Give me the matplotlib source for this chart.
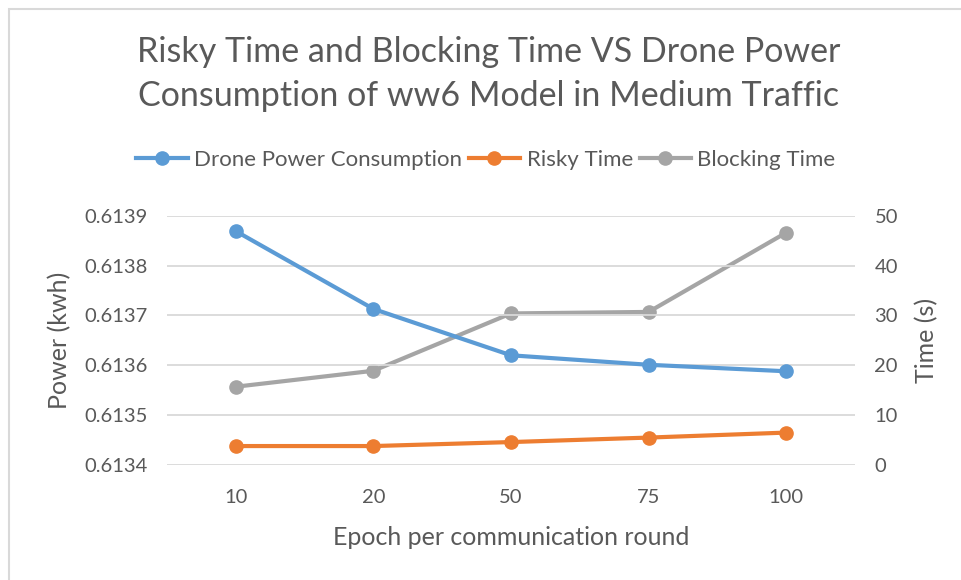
import matplotlib
matplotlib.use("Agg")
import matplotlib.pyplot as plt
from matplotlib.lines import Line2D
from matplotlib.patches import Rectangle

# Series data
epochs = ["10", "20", "50", "75", "100"]
power_kwh = [0.613869, 0.613713, 0.613620, 0.613601, 0.613588]
risky_time = [3.8, 3.8, 4.6, 5.5, 6.5]
blocking_time = [15.7, 18.9, 30.4, 30.7, 46.6]

BLUE = "#5B9BD5"
ORANGE = "#ED7D31"
GRAY = "#A5A5A5"
TEXT = "#595959"
GRID = "#D9D9D9"

plt.rcParams["font.family"] = ["Lato", "DejaVu Sans"]

fig = plt.figure(figsize=(9.61, 5.80), dpi=100)
fig.patches.append(Rectangle((9 / 961, -0.05), 1.1, 1 - 9 / 580 + 0.05,
                             transform=fig.transFigure, fill=False,
                             edgecolor="#D9D9D9", linewidth=1.5))

ax = fig.add_axes([167 / 961, 1 - 465 / 580, (855 - 167) / 961, (465 - 215.7) / 580])
ax2 = ax.twinx()

x = list(range(len(epochs)))
line_kw = dict(linewidth=3.0, marker="o", markersize=9.5, solid_capstyle="round")
ax.plot(x, power_kwh, color=BLUE, zorder=3, **line_kw)
ax2.plot(x, risky_time, color=ORANGE, **line_kw)
ax2.plot(x, blocking_time, color=GRAY, **line_kw)

ax.set_xlim(-0.5, len(epochs) - 0.5)
ax.set_ylim(0.6134, 0.6139)
ax.set_yticks([0.6134, 0.6135, 0.6136, 0.6137, 0.6138, 0.6139])
ax.set_yticklabels(["0.6134", "0.6135", "0.6136", "0.6137", "0.6138", "0.6139"])
ax2.set_ylim(0, 50)
ax2.set_yticks([0, 10, 20, 30, 40, 50])
ax.set_xticks(x)
ax.set_xticklabels(epochs)

# put the power line above the time lines
ax.set_zorder(ax2.get_zorder() + 1)
ax.patch.set_visible(False)

ax.grid(axis="y", color=GRID, linewidth=1.3)
ax.set_axisbelow(True)
for a in (ax, ax2):
    for s in a.spines.values():
        s.set_visible(False)
    a.tick_params(length=0, labelsize=14.5, colors=TEXT)
ax.tick_params(axis="x", pad=17)
ax.tick_params(axis="y", pad=14)
ax2.tick_params(axis="y", pad=14)

ax.set_xlabel("Epoch per communication round", fontsize=18, color=TEXT, labelpad=15)
ax.set_ylabel("Power (kwh)", fontsize=18, color=TEXT, labelpad=9)
ax2.set_ylabel("Time (s)", fontsize=18, color=TEXT, labelpad=12)

fig.text(489 / 961, 1 - 74 / 580,
         "Risky Time and Blocking Time VS Drone Power\nConsumption of ww6 Model in Medium Traffic",
         ha="center", va="center", fontsize=24.5, color=TEXT, linespacing=1.45)

handles = [
    Line2D([], [], color=c, linewidth=3.0, marker="o", markersize=9.5)
    for c in (BLUE, ORANGE, GRAY)
]
fig.legend(handles, ["Drone Power Consumption", "Risky Time", "Blocking Time"],
           loc="center", bbox_to_anchor=(486 / 961, 1 - 160 / 580), ncol=3,
           frameon=False, fontsize=16, labelcolor=TEXT, handlelength=2.3,
           handletextpad=0.3, columnspacing=0.3)

fig.savefig("out.png", dpi=100)
